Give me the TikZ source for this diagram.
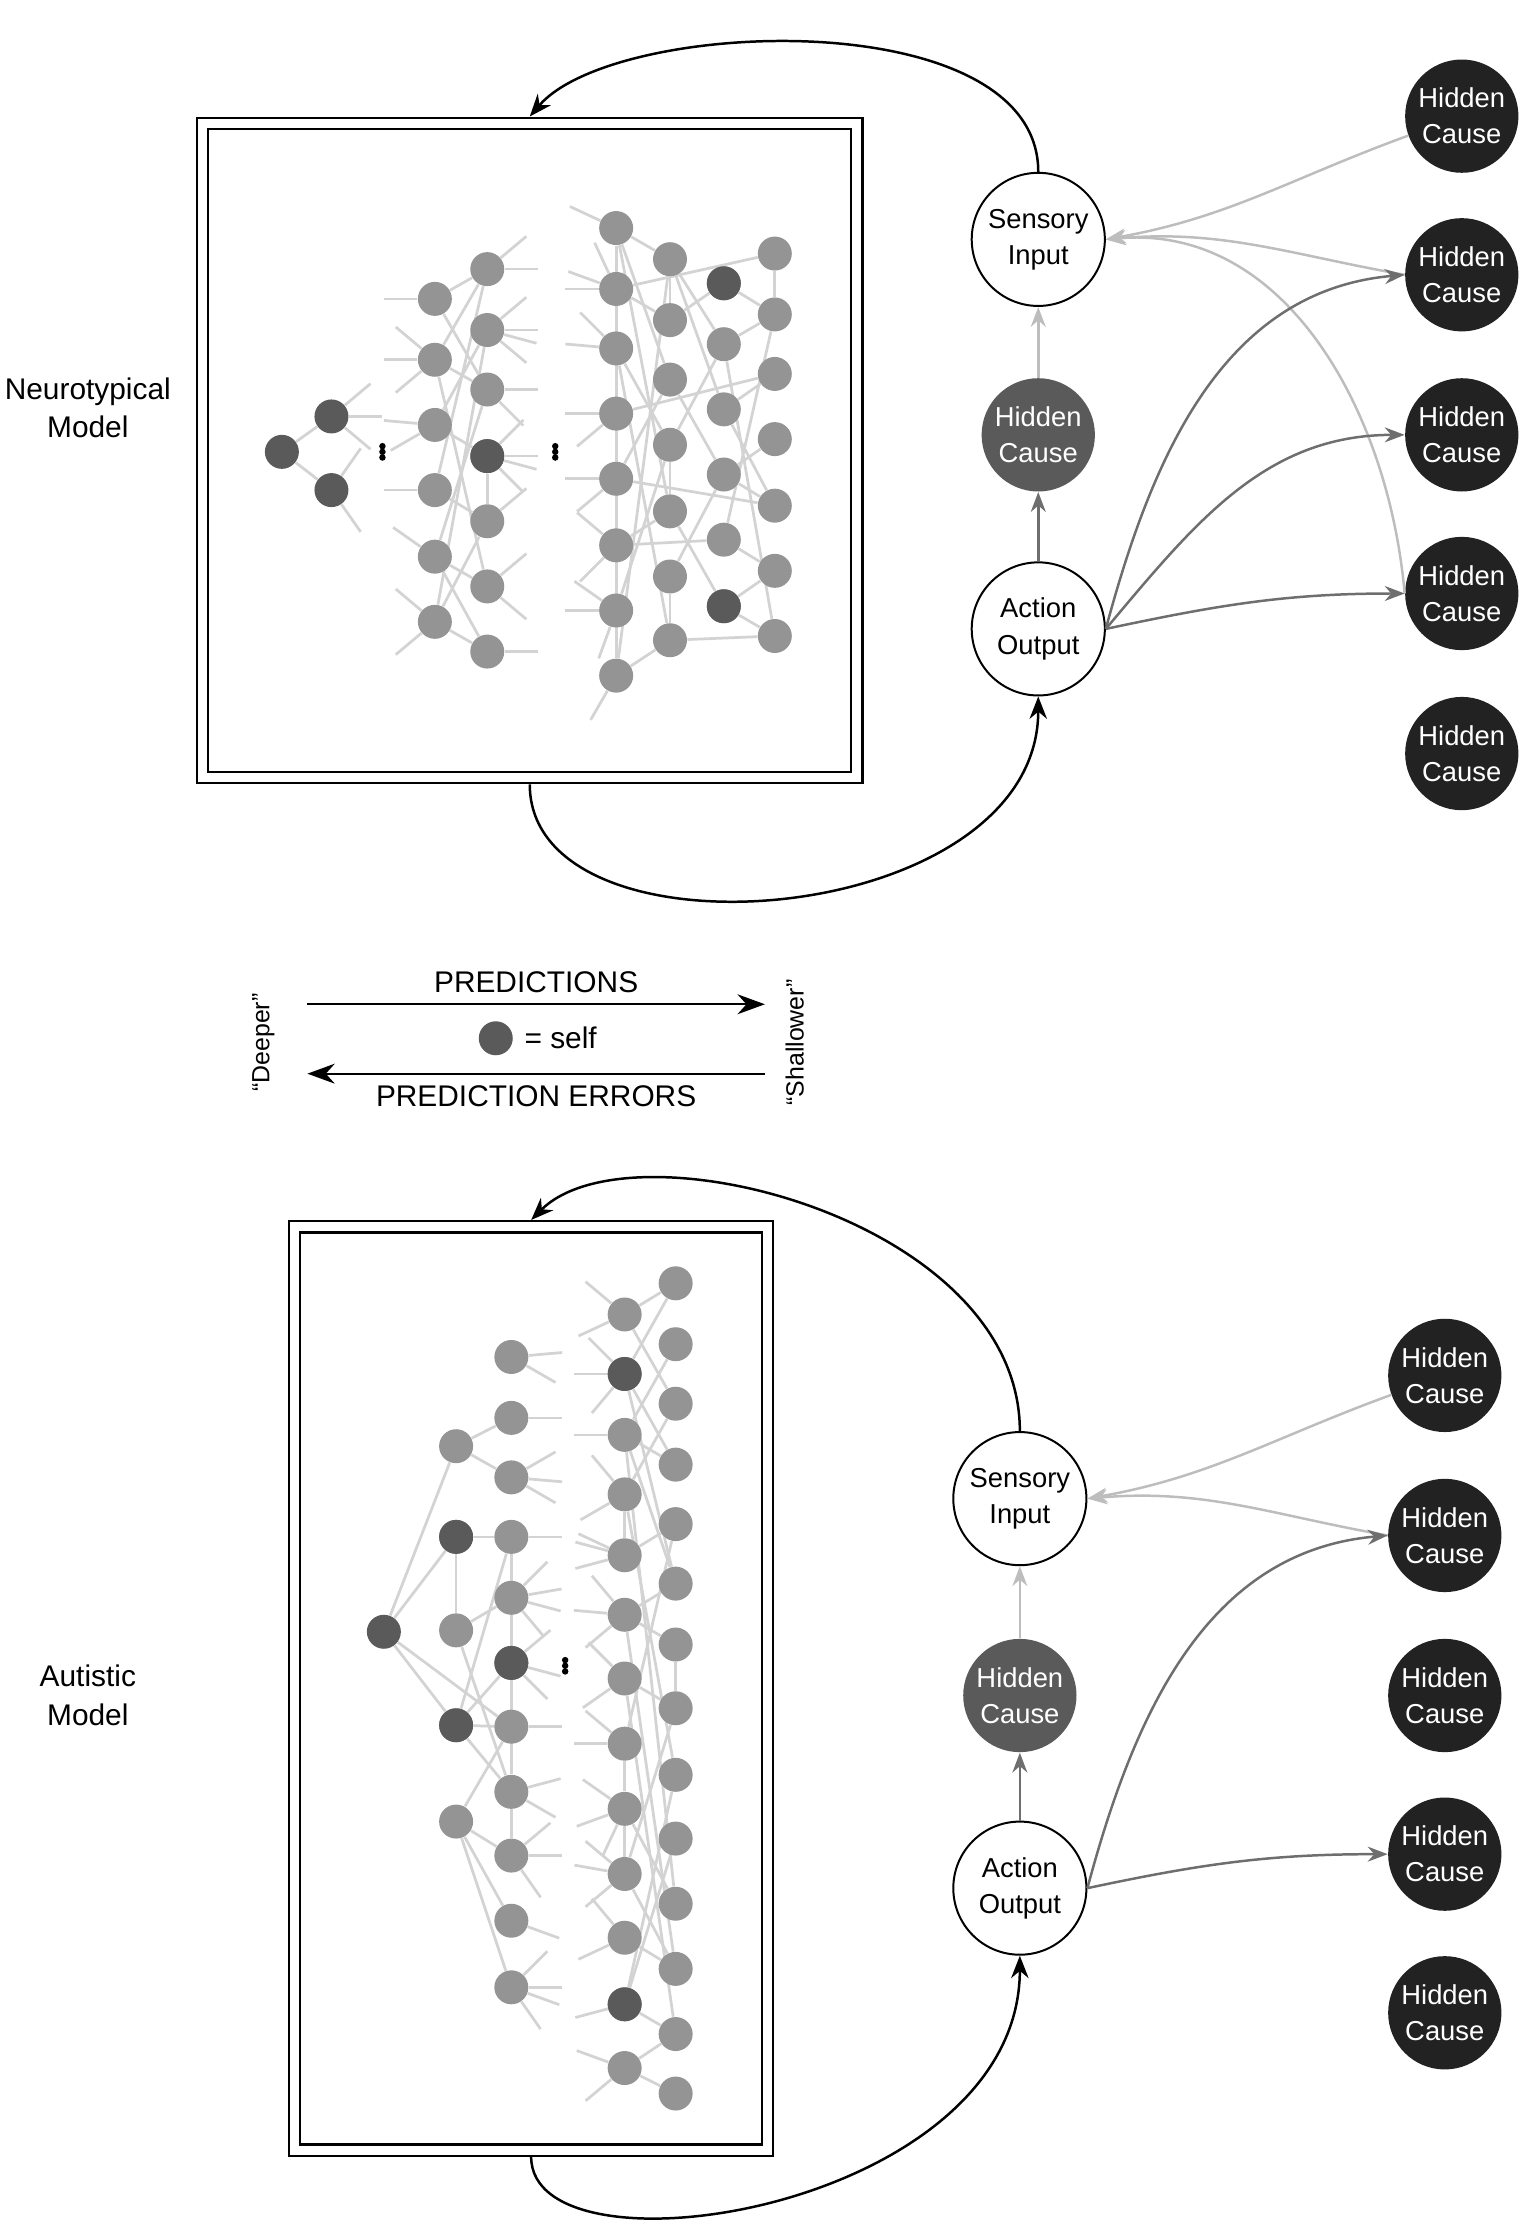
\documentclass[tikz,border=0pt]{standalone}
\usepackage{fontspec}
\setmainfont{Liberation Sans}
\usepackage{tikz}
\usetikzlibrary{arrows.meta,positioning,backgrounds}

\definecolor{unitgray}{HTML}{949494}
\definecolor{selfgray}{HTML}{5A5A5A}
\definecolor{linkgray}{HTML}{D3D3D3}
\definecolor{lightarr}{HTML}{BDBDBD}
\definecolor{darkarr}{HTML}{6E6E6E}
\definecolor{causeblack}{HTML}{222222}

% three stacked dots around a named coordinate
\newcommand{\layerdots}[1]{%
  \foreach \dy in {-4,0,4} \fill (#1) ++(0,\dy) circle (1.3pt);}

\begin{document}
\begin{tikzpicture}[x=0.02cm,y=-0.02cm,
    unit/.style={circle, fill=unitgray, minimum size=0.48cm, inner sep=0pt},
    self/.style={unit, fill=selfgray},
    link/.style={linkgray, line width=1.1pt},
    block/.style={circle, draw=black, thick, minimum size=1.88cm, inner sep=0pt,
      align=center, font=\fontsize{11}{14.5}\selectfont},
    cause/.style={circle, fill=causeblack, minimum size=1.6cm, inner sep=0pt,
      align=center, text=white, font=\fontsize{11}{14.5}\selectfont},
    frame/.style={draw=black, line width=0.9pt, inner sep=0pt},
    loop/.style={-{Stealth[length=9pt,width=7pt]}, line width=1pt, black},
    feed/.style={-{Stealth[length=8pt,width=6pt]}, line width=1pt, lightarr},
    act/.style={-{Stealth[length=8pt,width=6pt]}, line width=1pt, darkarr},
    lbl/.style={align=center, font=\fontsize{12}{15.5}\selectfont}
]
\useasboundingbox (0,0) rectangle (1076,1568);

%% Top: neurotypical model

\node [frame, minimum width=9.4cm, minimum height=9.4cm] (tframe) at (374,318) {};
\node [frame, minimum width=9.08cm, minimum height=9.08cm] at (374,318) {};
\node [lbl] (tlabel) at (62,288) {Neurotypical\\Model};

\node [self] (tA1) at (199,319) {};
\node [self] (tB1) at (234,294) {};
\node [self] (tB2) at (234,346) {};
\coordinate (tdots1) at (270,319);
\layerdots{tdots1}
\foreach \y [count=\i] in {211,254,300,346,393,439}
  \node [unit] (tC\i) at (307,\y) {};
\foreach \y [count=\i] in {190,233,275,322,368,414,460}
  \node [unit] (tD\i) at (344,\y) {};
\node [self] at (tD4) {};
\coordinate (tdots2) at (392,319);
\layerdots{tdots2}
\foreach \y [count=\i] in {161,204,246,292,338,385,431,477}
  \node [unit] (tE\i) at (435,\y) {};
\foreach \y [count=\i] in {183,226,268,314,361,407,452}
  \node [unit] (tF\i) at (473,\y) {};
\foreach \y [count=\i] in {200,243,289,335,381,428}
  \node [unit] (tG\i) at (511,\y) {};
\node [self] at (tG1) {};
\node [self] at (tG6) {};
\foreach \y [count=\i] in {179,222,264,310,357,403,449}
  \node [unit] (tH\i) at (547,\y) {};

\begin{scope}[on background layer]
  \foreach \a/\b in {tA1/tB1, tA1/tB2,
      tC1/tD1, tC1/tD3, tC2/tD1, tC2/tD3, tC2/tD6, tC3/tD4, tC3/tD2, tC4/tD5,
      tC4/tD1, tC5/tD3, tC5/tD6, tC5/tD7, tC6/tD7, tC6/tD5, tC6/tD2, tD4/tD5,
      tE1/tF1, tE1/tF3, tE1/tF5, tE1/tE8, tE2/tH1, tE2/tF2, tE3/tF4, tE3/tF7,
      tE4/tE5, tE4/tH3, tE5/tH5, tE5/tF3, tE6/tG5, tE6/tF5, tE7/tF4, tE8/tF7,
      tE8/tF1, tF1/tG3, tF1/tG2, tF2/tG1, tF2/tF1, tF3/tG4, tF4/tF5, tF4/tG2,
      tF5/tG6, tF6/tF7, tF6/tG4, tF7/tH7, tG1/tH2, tG2/tH2, tG2/tH7, tG3/tH3,
      tG3/tH5, tG4/tH4, tG4/tH5, tG5/tH6, tG5/tH2, tG6/tH7, tG6/tH6, tH1/tH2}
    \draw [link] (\a) -- (\b);
  % open ends
  \foreach \n/\a in {tB1/0, tB1/40, tB1/-40, tB2/55, tB2/-55,
      tD1/0, tD1/-40, tD2/0, tD2/40, tD2/-40, tD2/15, tD3/0, tD3/45,
      tD4/0, tD4/45, tD4/-45, tD4/15, tD5/-40, tD6/40, tD6/-40, tD7/0}
    \draw [link] (\n) -- ++(\a:36);
  \foreach \n/\a in {tC1/180, tC2/140, tC2/180, tC2/220, tC3/150, tC3/185,
      tC4/180, tC5/215, tC6/140, tC6/220,
      tE1/205, tE2/180, tE2/200, tE2/245, tE3/185, tE3/225, tE4/140, tE4/180,
      tE5/140, tE5/180, tE6/135, tE6/220, tE7/110, tE7/180, tE7/215, tE8/120}
    \draw [link] (\n) -- ++(\a:36);
\end{scope}

\node [block] (tsense) at (733,169) {Sensory\\Input};
\node [cause, fill=selfgray] (thid) at (733,307) {Hidden\\Cause};
\node [block] (tact) at (733,444) {Action\\Output};
\foreach \y [count=\i] in {82,194,307,419,532}
  \node [cause] (tcause\i) at (1032,\y) {Hidden\\Cause};

\draw [loop] (tsense.north) .. controls +(0,-120) and +(60,-70) .. (tframe.north);
\draw [loop] (tframe.south) .. controls +(0,130) and +(0,165) .. (tact.south);
\draw [feed] (thid) -- (tsense);
\draw [act] (tact) -- (thid);
\draw [feed] (tcause1.200) to [out=200, in=10] (tsense.east);
\draw [feed] (tcause2.180) to [out=170, in=5] (tsense.east);
\draw [feed] (tcause4.180) to [out=95, in=5] (tsense.east);
\draw [act] (tact.east) to [out=75, in=185] (tcause2.west);
\draw [act] (tact.east) to [out=50, in=180] (tcause3.west);
\draw [act] (tact.east) to [out=12, in=180] (tcause4.west);

%% Legend

\coordinate (lgl) at (217,709);
\coordinate (lgr) at (540,709);
\coordinate (lel) at (217,758);
\coordinate (ler) at (540,758);
\draw [-{Stealth[length=11pt,width=8pt]}, thick] (lgl) -- node [lbl, above=1pt] {PREDICTIONS} (lgr);
\draw [-{Stealth[length=11pt,width=8pt]}, thick] (ler) -- node [lbl, below=1pt] {PREDICTION ERRORS} (lel);
\node [self] (lself) at (350,733) {};
\node [lbl, right=1pt of lself] (lselftext) {= self};
\node [lbl, rotate=90, font=\fontsize{10}{12}\selectfont] (ldeep) at (186,736) {“Deeper”};
\node [lbl, rotate=90, font=\fontsize{10}{12}\selectfont] (lshallow) at (561,736) {“Shallower”};

%% Bottom: autistic model

\node [frame, minimum width=6.84cm, minimum height=13.2cm] (bframe) at (375,1192) {};
\node [frame, minimum width=6.52cm, minimum height=12.88cm] at (375,1192) {};
\node [lbl] (blabel) at (62,1197) {Autistic\\Model};

\node [self] (bA1) at (271,1152) {};
\foreach \y [count=\i] in {1021,1085,1151,1218,1286}
  \node [unit] (bB\i) at (322,\y) {};
\node [self] at (bB2) {};
\node [self] at (bB4) {};
\foreach \y [count=\i] in {958,1001,1043,1085,1128,1174,1219,1265,1310,1356,1403}
  \node [unit] (bC\i) at (361,\y) {};
\node [self] at (bC6) {};
\coordinate (bdots) at (399,1176);
\layerdots{bdots}
\foreach \y [count=\i] in {928,970,1013,1055,1098,1140,1185,1231,1277,1323,1368,1415,1460}
  \node [unit] (bD\i) at (441,\y) {};
\node [self] at (bD2) {};
\node [self] at (bD12) {};
\foreach \y [count=\i] in {906,949,991,1034,1076,1118,1161,1206,1253,1298,1344,1390,1436,1478}
  \node [unit] (bE\i) at (477,\y) {};

\begin{scope}[on background layer]
  \foreach \a/\b in {bA1/bB1, bA1/bB2, bA1/bB4, bA1/bC7, bB2/bB3,
      bB1/bC2, bB1/bC3, bB2/bC4, bB3/bC5, bB3/bC8, bB4/bC4, bB4/bC6,
      bB4/bC7, bB4/bC8, bB5/bC7, bB5/bC9, bB5/bC10, bB5/bC11, bC8/bC9, bC4/bC8,
      bD1/bE1, bD1/bE3, bD2/bE1, bD2/bE4, bD2/bE6, bD3/bE2, bD3/bE4, bD3/bE6,
      bD4/bD5, bD4/bE3, bD4/bE9, bD5/bE5, bD6/bE6, bD6/bE7, bD6/bE12,
      bD7/bE8, bD8/bD9, bD9/bD10, bD8/bE5, bD9/bE11, bD10/bE8, bD10/bE12,
      bD11/bE12, bD12/bE9, bD12/bE13, bD12/bE10, bD13/bE13, bD13/bE14,
      bE7/bE8, bD3/bE11, bD7/bE13}
    \draw [link] (\a) -- (\b);
  % open ends
  \foreach \n/\a in {bC1/30, bC1/-5, bC2/0, bC3/30, bC3/5, bC3/-30,
      bC4/0, bC5/50, bC5/15, bC5/-10, bC5/-45, bC6/45, bC6/15, bC6/-40,
      bC7/0, bC8/30, bC8/-15, bC9/55, bC9/0, bC9/-40, bC10/20,
      bC11/55, bC11/20, bC11/0, bC11/-45}
    \draw [link] (\n) -- ++(\a:36);
  \foreach \n/\a in {bD1/155, bD1/220, bD2/130, bD2/180, bD2/225, bD3/180,
      bD4/150, bD4/230, bD5/165, bD5/195, bD5/205, bD6/140, bD6/185, bD6/230,
      bD7/145, bD7/225, bD8/180, bD8/220, bD9/160, bD9/115, bD9/215,
      bD10/140, bD10/190, bD10/220, bD11/155, bD11/230, bD12/165, bD13/200, bD13/140}
    \draw [link] (\n) -- ++(\a:36);
\end{scope}

\node [block] (bsense) at (720,1058) {Sensory\\Input};
\node [cause, fill=selfgray] (bhid) at (720,1197) {Hidden\\Cause};
\node [block] (bact) at (720,1333) {Action\\Output};
\foreach \y [count=\i] in {971,1084,1197,1309,1421}
  \node [cause] (bcause\i) at (1020,\y) {Hidden\\Cause};

\draw [loop] (bsense.north) .. controls +(0,-150) and +(70,-70) .. (bframe.north);
\draw [loop] (bframe.south) .. controls +(0,90) and +(0,180) .. (bact.south);
\draw [feed] (bhid) -- (bsense);
\draw [act] (bact) -- (bhid);
\draw [feed] (bcause1.200) to [out=200, in=10] (bsense.east);
\draw [feed] (bcause2.180) to [out=170, in=5] (bsense.east);
\draw [act] (bact.east) to [out=75, in=185] (bcause2.west);
\draw [act] (bact.east) to [out=12, in=180] (bcause4.west);
\end{tikzpicture}
\end{document}
